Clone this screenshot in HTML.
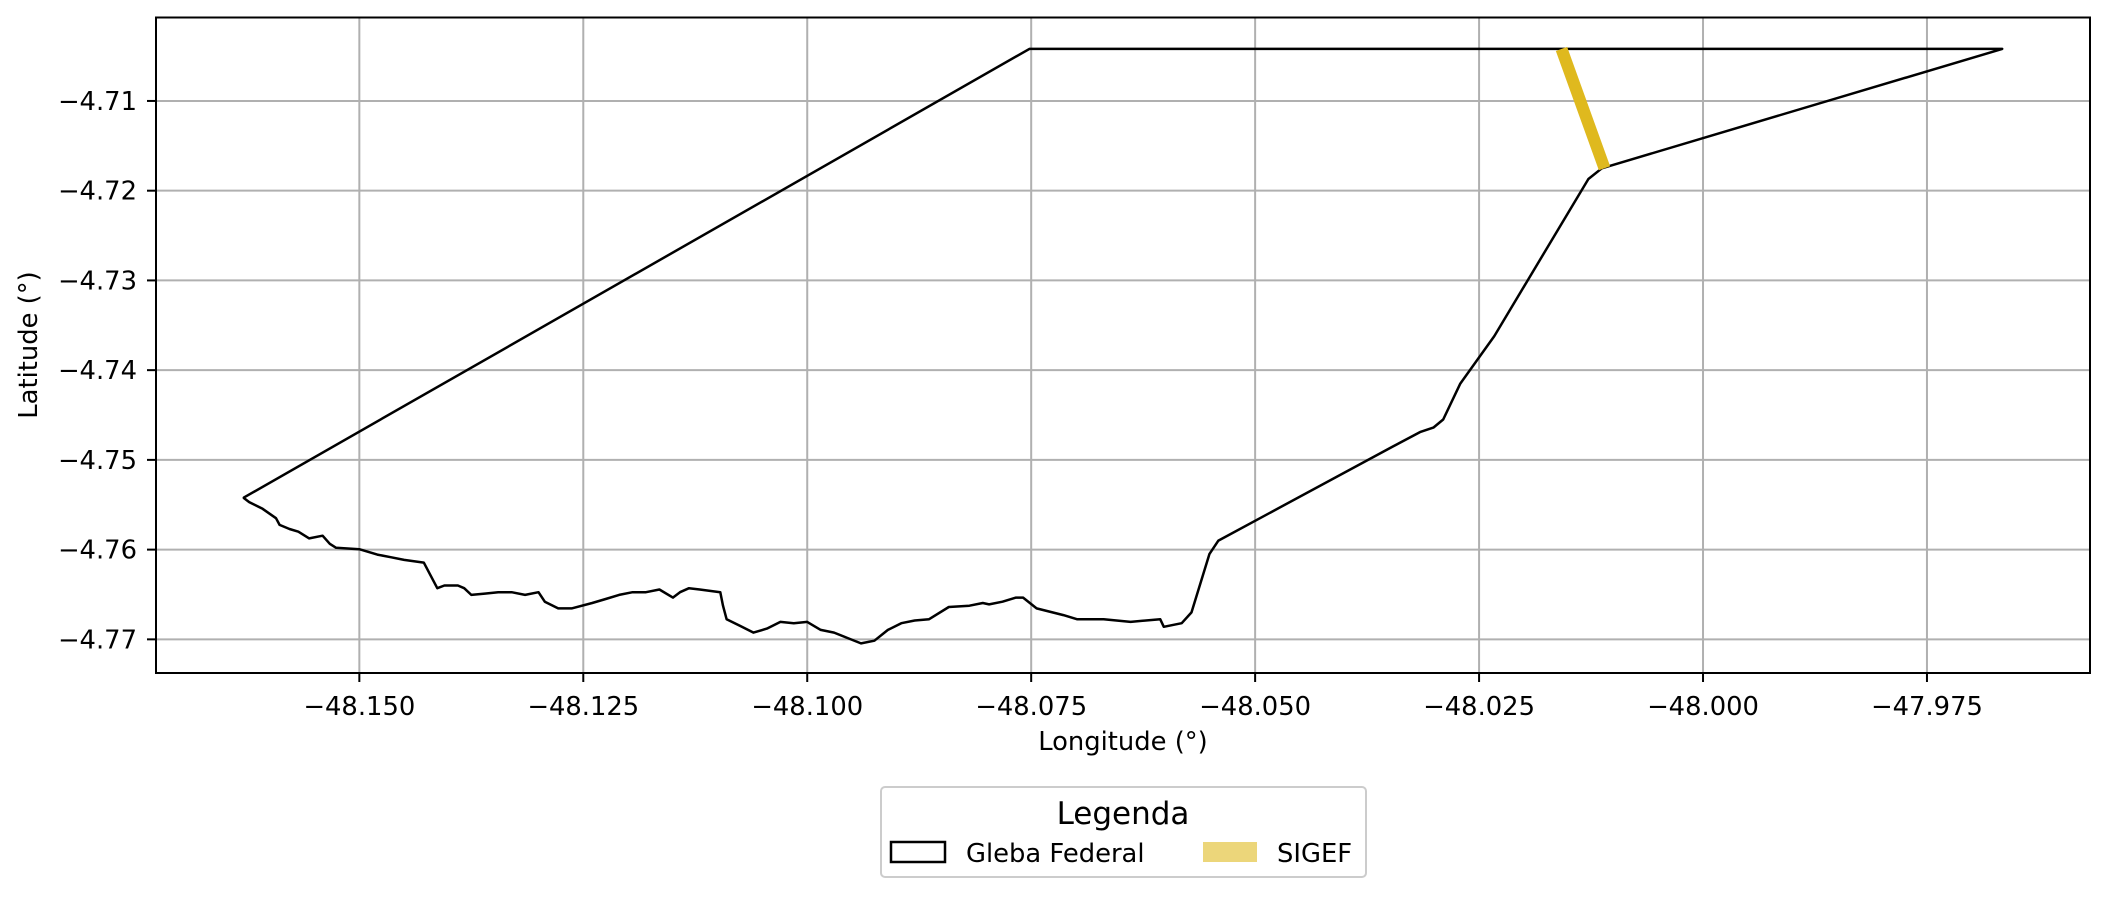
<!DOCTYPE html>
<html><head><meta charset="utf-8"><style>
body{margin:0;background:#fff;}
svg{display:block;font-family:"DejaVu Sans","Liberation Sans",sans-serif;}
</style></head><body>
<svg id="chart" width="2110" height="898" viewBox="0 0 2110 898" xmlns="http://www.w3.org/2000/svg"></svg>
<script>
const xTicks=[-48.150,-48.125,-48.100,-48.075,-48.050,-48.025,-48.000,-47.975];
const xTickLabels=["−48.150","−48.125","−48.100","−48.075","−48.050","−48.025","−48.000","−47.975"];
const yTicks=[-4.71,-4.72,-4.73,-4.74,-4.75,-4.76,-4.77];
const yTickLabels=["−4.71","−4.72","−4.73","−4.74","−4.75","−4.76","−4.77"];
const glebaLon=[-48.1629,-48.0752,-47.9666,-48.0113,-48.0128,-48.0233,-48.0271,-48.0290,-48.0301,-48.0316,-48.0346,-48.0541,-48.0551,-48.0571,-48.0582,-48.0602,-48.0606,-48.0639,-48.0669,-48.0699,-48.0714,-48.0744,-48.0759,-48.0767,-48.0782,-48.0797,-48.0804,-48.0819,-48.0842,-48.0864,-48.0880,-48.0895,-48.0910,-48.0925,-48.0940,-48.0955,-48.0970,-48.0985,-48.1000,-48.1015,-48.1030,-48.1045,-48.1060,-48.1075,-48.1090,-48.1094,-48.1097,-48.1120,-48.1132,-48.1142,-48.1150,-48.1165,-48.1180,-48.1195,-48.1210,-48.1225,-48.1240,-48.1263,-48.1278,-48.1293,-48.1300,-48.1315,-48.1330,-48.1345,-48.1360,-48.1375,-48.1383,-48.1390,-48.1405,-48.1413,-48.1428,-48.1450,-48.1465,-48.1480,-48.1500,-48.1526,-48.1533,-48.1541,-48.1556,-48.1568,-48.1578,-48.1589,-48.1593,-48.1608,-48.1623,-48.1629];
const glebaLat=[-4.7542,-4.7042,-4.7042,-4.7175,-4.7187,-4.7362,-4.7415,-4.7455,-4.7464,-4.7469,-4.7485,-4.7590,-4.7605,-4.7670,-4.7682,-4.7686,-4.76775,-4.76805,-4.76775,-4.76775,-4.7673,-4.76655,-4.76535,-4.76535,-4.7658,-4.7661,-4.76595,-4.76625,-4.7664,-4.76775,-4.7679,-4.7682,-4.76895,-4.77015,-4.77045,-4.76985,-4.76925,-4.76895,-4.76805,-4.7682,-4.76805,-4.7688,-4.76925,-4.7685,-4.76775,-4.76625,-4.76475,-4.76445,-4.7643,-4.76475,-4.76535,-4.76445,-4.76475,-4.76475,-4.76505,-4.7655,-4.76595,-4.76655,-4.76655,-4.7658,-4.76475,-4.76505,-4.76475,-4.76475,-4.7649,-4.76505,-4.7643,-4.764,-4.764,-4.7643,-4.76145,-4.76115,-4.76085,-4.76055,-4.75995,-4.7598,-4.75935,-4.75845,-4.75875,-4.758,-4.7577,-4.75725,-4.7565,-4.75545,-4.7547,-4.75425];
const sigefLon=[-48.0158,-48.0110];
const sigefLat=[-4.7042,-4.7175];

const L=156,R=2090,T=17.5,B=673;
const xMin=-48.1727,xMax=-47.9568,yMin=-4.77375,yMax=-4.7007;
const sx=v=>L+(v-xMin)/(xMax-xMin)*(R-L);
const sy=v=>B-(v-yMin)/(yMax-yMin)*(B-T);
const svg=document.getElementById('chart');
const NS="http://www.w3.org/2000/svg";
function mk(tag,attrs,parent){const e=document.createElementNS(NS,tag);for(const k in attrs)e.setAttribute(k,attrs[k]);(parent||svg).appendChild(e);return e;}

const grid=mk('g',{});


xTicks.forEach((t,i)=>{
  const x=sx(t);
  const gl=mk('line',{x1:x,x2:x,y1:T,y2:B,stroke:'#b0b0b0','stroke-width':2},grid);
  
  
  mk('line',{x1:x,x2:x,y1:B,y2:B+9,stroke:'#000','stroke-width':2});
  const tx=mk('text',{x:x,y:B+42,'text-anchor':'middle','font-size':25.8});
  tx.textContent=xTickLabels[i];
  
  
});
yTicks.forEach((t,i)=>{
  const y=sy(t);
  const gl=mk('line',{x1:L,x2:R,y1:y,y2:y,stroke:'#b0b0b0','stroke-width':2},grid);
  
  
  mk('line',{x1:L-9,x2:L,y1:y,y2:y,stroke:'#000','stroke-width':2});
  const tx=mk('text',{x:L-19,y:y+9,'text-anchor':'end','font-size':25.8});
  tx.textContent=yTickLabels[i];
  
  
});

let d='';
glebaLon.forEach((v,i)=>{d+=(i?'L':'M')+sx(v).toFixed(1)+','+sy(glebaLat[i]).toFixed(1);});
const poly=mk('path',{d:d+'Z',fill:'none',stroke:'#000','stroke-width':2.5,'stroke-linejoin':'round'});



const sg=mk('line',{x1:sx(sigefLon[0]),y1:sy(sigefLat[0]),x2:sx(sigefLon[1]),y2:sy(sigefLat[1]),stroke:'#dfb91e','stroke-width':12});



const fr=mk('rect',{x:L,y:T,width:R-L,height:B-T,fill:'none',stroke:'#000','stroke-width':2});



const xl=mk('text',{x:1123,y:750,'text-anchor':'middle','font-size':25.8});
xl.textContent='Longitude (°)';


const yl=mk('text',{x:0,y:0,'text-anchor':'middle','font-size':25.8,transform:'translate(37,345) rotate(-90)'});
yl.textContent='Latitude (°)';



const lg=mk('g',{});


mk('rect',{x:881,y:787,width:485,height:90,rx:4,fill:'#fff',stroke:'#ccc','stroke-width':2},lg);
const lt=mk('text',{x:1123,y:824,'text-anchor':'middle','font-size':31},lg);
lt.textContent='Legenda';


const e1=mk('rect',{x:891,y:842,width:54,height:20,fill:'none',stroke:'#000','stroke-width':2.5},lg);


const t1=mk('text',{x:966,y:862,'font-size':25.8},lg);
t1.textContent='Gleba Federal';


const e2=mk('rect',{x:1203,y:842,width:54,height:20,fill:'#ecd67a'},lg);


const t2=mk('text',{x:1277,y:862,'font-size':25.8},lg);
t2.textContent='SIGEF';


</script>
</body></html>
